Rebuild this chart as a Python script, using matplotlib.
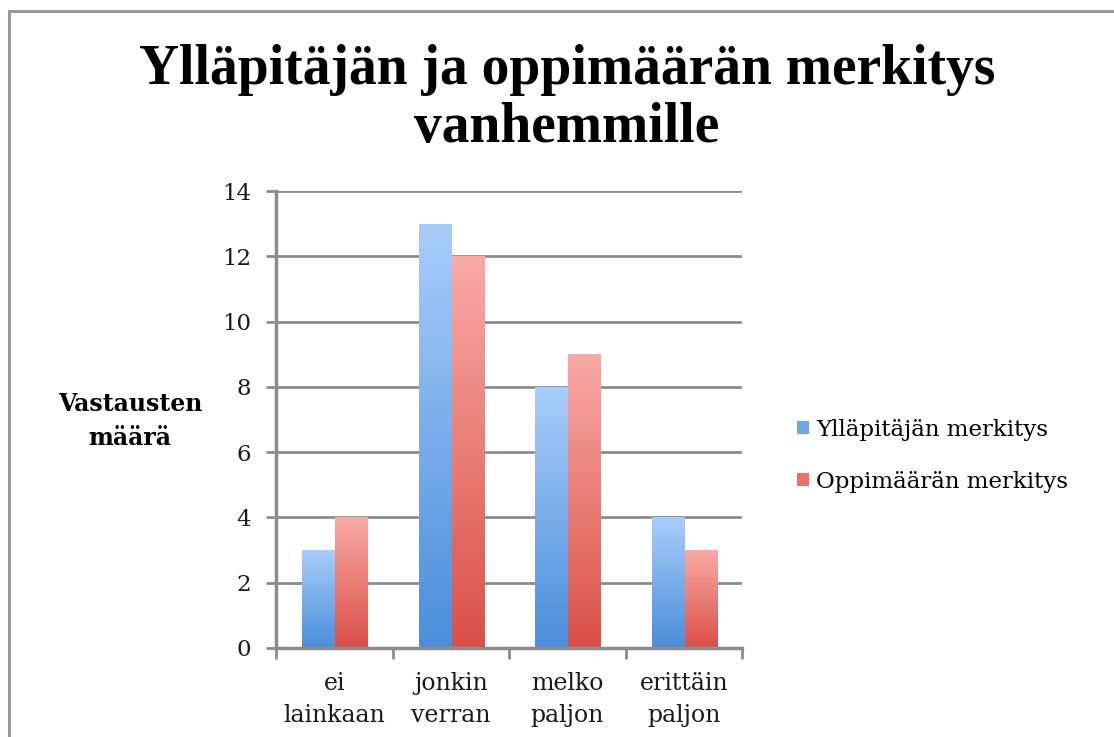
import matplotlib
matplotlib.use("Agg")
import matplotlib.pyplot as plt
import numpy as np
from matplotlib.colors import LinearSegmentedColormap
from matplotlib.patches import Rectangle

categories = ["ei\nlainkaan", "jonkin\nverran", "melko\npaljon", "erittäin\npaljon"]
series_names = ["Ylläpitäjän merkitys", "Oppimäärän merkitys"]
yllapitaja = [3, 13, 8, 4]
oppimaara = [4, 12, 9, 3]
yticks = [0, 2, 4, 6, 8, 10, 12, 14]

W, H = 1114, 737
fig = plt.figure(figsize=(W / 100, H / 100), dpi=100)
fig.patch.set_facecolor("white")

# outer frame (cut off at right and bottom)
fig.patches.append(Rectangle((9 / W, -0.1), 1.2, 1 - 11 / H + 0.1, transform=fig.transFigure,
                             fill=False, edgecolor="#9a9a9a", linewidth=2.2))

ax = fig.add_axes([276 / W, 1 - 648 / H, (742 - 276) / W, (648 - 191) / H])
ax.set_xlim(-0.5, 3.5)
ax.set_ylim(0, 14)

grey = "#8c8c8c"
for y in yticks[1:]:
    ax.axhline(y, color=grey, lw=2.0, zorder=0)

x = np.arange(len(categories))
bw = 0.283
blue_cmap = LinearSegmentedColormap.from_list("b", ["#4a8edb", "#a9cdfa"])
red_cmap = LinearSegmentedColormap.from_list("r", ["#da5047", "#f9aaa6"])

grad = np.linspace(0, 1, 256).reshape(-1, 1)
for vals, off, cmap in [(yllapitaja, -bw / 2 + 0.01, blue_cmap), (oppimaara, bw / 2 + 0.01, red_cmap)]:
    bars = ax.bar(x + off, vals, width=bw, color="none", edgecolor="none", zorder=2)
    for b in bars:
        x0, y0 = b.get_x(), b.get_y()
        x1, y1 = x0 + b.get_width(), y0 + b.get_height()
        im = ax.imshow(grad, cmap=cmap, origin="lower", extent=[x0, x1, y0, y1],
                       aspect="auto", zorder=2, interpolation="bilinear")
        im.set_clip_path(b)
ax.set_xlim(-0.5, 3.5)
ax.set_ylim(0, 14)

for s in ["top", "right"]:
    ax.spines[s].set_visible(False)
for s in ["left", "bottom"]:
    ax.spines[s].set_color(grey)
    ax.spines[s].set_linewidth(2.5)

serif = "DejaVu Serif"
ax.set_yticks(yticks)
ax.set_yticklabels([str(v) for v in yticks], fontsize=16.5, family=serif, color="#1a1a1a")
ax.tick_params(axis="y", length=7, width=2, color=grey, pad=11)

ax.set_xticks(x)
ax.set_xticklabels(categories, fontsize=17, family=serif, color="#1a1a1a", linespacing=1.5)
ax.tick_params(axis="x", length=0, pad=17)
ax.set_xticks([-0.5, 0.5, 1.5, 2.5, 3.5], minor=True)
ax.tick_params(axis="x", which="minor", length=8, width=2, color=grey)

fig.text(567 / W, 1 - 99 / H, "Ylläpitäjän ja oppimäärän merkitys\nvanhemmille",
         ha="center", va="center", fontsize=40, fontweight="bold",
         family="Liberation Serif", linespacing=1.13)

fig.text(130 / W, 1 - 421 / H, "Vastausten\nmäärä", ha="center", va="center",
         fontsize=17, fontweight="bold", family=serif, linespacing=1.55)

handles = [Rectangle((0, 0), 1, 1, facecolor="#6fa6e6"), Rectangle((0, 0), 1, 1, facecolor="#e8716a")]
fig.legend(handles, series_names, loc="center left", bbox_to_anchor=(786 / W, 1 - 456 / H),
           frameon=False, prop={"family": serif, "size": 16.5}, handlelength=0.5,
           handleheight=0.5, handletextpad=0.3, labelspacing=1.3, borderpad=0)

fig.savefig("out.png", dpi=100)
